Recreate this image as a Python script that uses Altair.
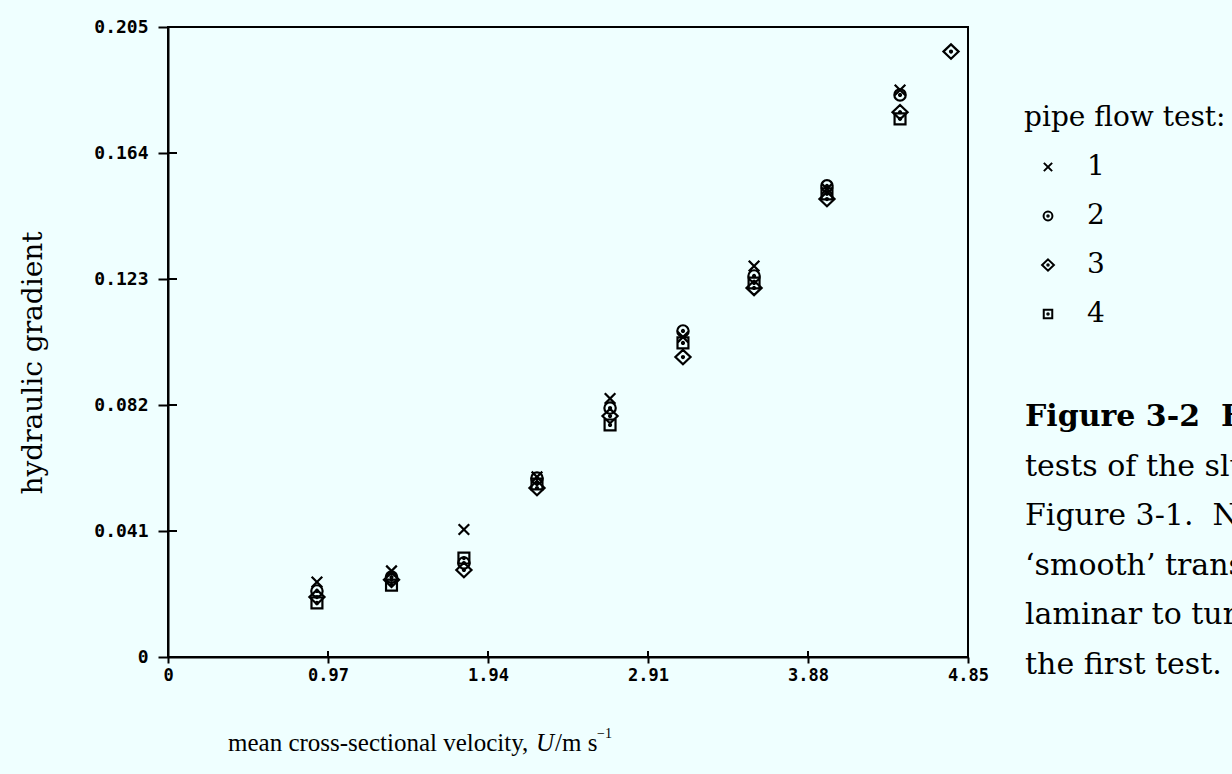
import altair as alt
import pandas as pd

# ---- data ----
velocity = [0.903, 1.355, 1.794, 2.237, 2.680, 3.122, 3.553, 3.995, 4.438, 4.747]
test1 = [0.0244, 0.0280, 0.0415, 0.0586, 0.0841, 0.1041, 0.1272, 0.1523, 0.1845, None]
test2 = [0.0215, 0.0260, 0.0306, 0.0582, 0.0810, 0.1061, 0.1240, 0.1533, 0.1829, None]
test3 = [0.0195, 0.0251, 0.0283, 0.0550, 0.0784, 0.0976, 0.1201, 0.1490, 0.1773, 0.1970]
test4 = [0.0176, 0.0234, 0.0322, 0.0563, 0.0755, 0.1022, 0.1217, 0.1507, 0.1751, None]

tests = ["1", "2", "3", "4"]
x_ticks = [0, 0.97, 1.94, 2.91, 3.88, 4.85]
y_ticks = [0, 0.041, 0.082, 0.123, 0.164, 0.205]

NB = "\u00a0"
caption_bold = "Figure 3-2" + NB + NB + "Hydraulic"
caption_lines = [
    "tests of the slurry shown in",
    "Figure 3-1." + NB + NB + "Note the",
    "\u2018smooth\u2019 transition from",
    "laminar to turbulent flow in",
    "the first test.",
]

rows = []
for name, series in zip(tests, [test1, test2, test3, test4]):
    for v, g in zip(velocity, series):
        if g is not None:
            rows.append({"U": v, "grad": g, "test": name})
df = pd.DataFrame(rows)

dot = "M-0.13,0A0.13,0.13,0,1,0,0.13,0A0.13,0.13,0,1,0,-0.13,0Z"
shape_paths = [
    "M-0.7,-0.7L0.7,0.7M-0.7,0.7L0.7,-0.7",
    "M-0.75,0A0.75,0.75,0,1,0,0.75,0A0.75,0.75,0,1,0,-0.75,0Z" + dot,
    "M0,-0.95L1,0L0,0.95L-1,0Z" + dot,
    "M-0.72,-0.72L0.72,-0.72L0.72,0.72L-0.72,0.72Z" + dot,
]

W, H = 800, 630
XS = alt.Scale(domain=[0, 4.85], nice=False, zero=False)
YS = alt.Scale(domain=[0, 0.205], nice=False, zero=False)

points = alt.Chart(df).mark_point(
    filled=False, color="black", strokeWidth=2.2, size=230, opacity=1
).encode(
    x=alt.X("U:Q", scale=XS, axis=alt.Axis(
        values=x_ticks, title=None, grid=False,
        labelExpr="datum.value == 0 ? '0' : format(datum.value, '.2f')",
        labelFont="DejaVu Sans Mono", labelFontWeight="bold", labelFontSize=17,
        labelColor="black", labelFlush=False, labelOverlap=False,
        tickSize=6, tickWidth=2, tickColor="black",
        domainColor="black", domainWidth=2, labelPadding=4)),
    y=alt.Y("grad:Q", scale=YS, axis=alt.Axis(
        values=y_ticks, title=None, grid=False,
        labelExpr="datum.value == 0 ? '0' : format(datum.value, '.3f')",
        labelFont="DejaVu Sans Mono", labelFontWeight="bold", labelFontSize=18,
        labelColor="black", labelOverlap=False, labelFlush=False,
        tickSize=10, tickWidth=2, tickColor="black",
        domainColor="black", domainWidth=2, labelPadding=10)),
    shape=alt.Shape("test:N", scale=alt.Scale(domain=tests, range=shape_paths),
                    legend=alt.Legend(
                        orient="none", legendX=866, legendY=126, title=None,
                        labelFont="DejaVu Serif", labelFontSize=28, labelColor="black",
                        labelOffset=25, rowPadding=21, symbolSize=140,
                        symbolStrokeColor="black", symbolStrokeWidth=2,
                        symbolFillColor="transparent", padding=0)),
)

inner_y = alt.Chart(pd.DataFrame({"t": y_ticks[1:5]})).mark_rule(
    color="black", strokeWidth=2
).encode(y=alt.Y("t:Q", scale=YS), x=alt.value(0), x2=alt.value(9))

inner_x = alt.Chart(pd.DataFrame({"t": x_ticks[1:5]})).mark_rule(
    color="black", strokeWidth=2
).encode(x=alt.X("t:Q", scale=XS), y=alt.value(H), y2=alt.value(H - 6))


def label(text, x, y, size=26, weight="normal", style="normal", align="left",
          angle=0, font="DejaVu Serif"):
    # x, y given in page pixels; converted to plot-area coordinates
    return alt.Chart(pd.DataFrame({"s": [text]})).mark_text(
        font=font, fontSize=size, fontWeight=weight, fontStyle=style,
        align=align, baseline="middle", color="black", angle=angle
    ).encode(text="s:N", x=alt.value(x - 168), y=alt.value(y - 27))


TY = 743
texts = [
    label("hydraulic gradient", 34, 363, size=28, angle=270, align="center"),
    label("mean cross-sectional velocity,", 228, TY, size=25, font="Liberation Serif"),
    label("U", 536, TY, size=25, style="italic", font="Liberation Serif"),
    label("/m" + NB + "s", 555, TY, size=25, font="Liberation Serif"),
    label("\u22121", 597, TY - 9, size=14, font="Liberation Serif"),
    label("pipe flow test:", 1024, 118, size=28),
    label(caption_bold, 1025, 417, size=30, weight="bold"),
]
for i, line in enumerate(caption_lines):
    texts.append(label(line, 1025, 417 + (i + 1) * 49.5, size=30))

chart = alt.layer(points, inner_y, inner_x, *texts).properties(
    width=W, height=H,
    autosize=alt.AutoSizeParams(type="none"),
    padding={"left": 168, "top": 27, "right": 264, "bottom": 117},
    background="#EFFFFF",
).configure_view(stroke="black", strokeWidth=2)

chart.save("out.html", embed_options={"renderer": "svg", "actions": False})
